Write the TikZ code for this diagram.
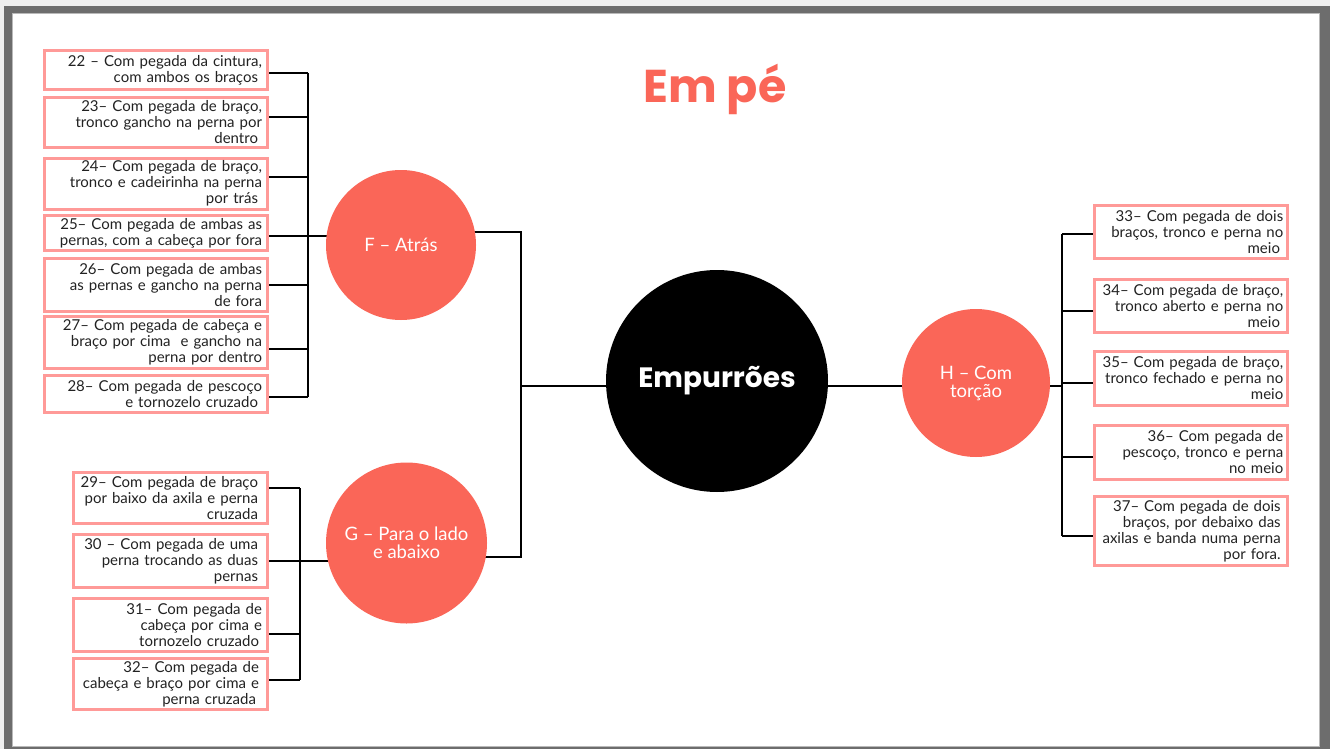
\documentclass[tikz,border=0pt]{standalone}
\usepackage{fontspec}
\setmainfont{Lato}
\newfontfamily\popfont{Poppins}
\definecolor{coral}{HTML}{FA6658}
\definecolor{boxpink}{HTML}{FF9A98}
\definecolor{framegray}{HTML}{6D6D6D}
\definecolor{bglight}{HTML}{EFEFEF}
\definecolor{textdark}{HTML}{222222}
\pgfdeclarelayer{back}
\pgfdeclarelayer{bg}
\pgfsetlayers{back,bg,main}
\begin{document}
\begin{tikzpicture}[x=1pt,y=-1pt,
  conn/.style={draw=black, line width=2pt},
  tbox/.style={draw=boxpink, line width=3pt, fill=white, inner ysep=0pt,
    font=\fontsize{15}{16}\selectfont, text=textdark, align=right},
  lbox/.style={tbox, minimum width=223pt, text width=212pt, inner xsep=5.5pt},
  gbox/.style={tbox, minimum width=194pt, text width=183pt, inner xsep=5.5pt},
  rbox/.style={tbox, minimum width=193pt, text width=184.6pt, inner xsep=4.2pt},
  circ/.style={circle, fill=coral, text=white, inner sep=0pt, align=center,
    font=\fontsize{18.5}{18}\selectfont}
]
\useasboundingbox (0,0) rectangle (1330,749);
% background and frame
\begin{pgfonlayer}{back}
\fill[bglight] (0,0) rectangle (1330,749);
\fill[framegray] (4,6) rectangle (1330,749);
\filldraw[fill=white, draw=gray!55, line width=1pt] (12,14) rectangle (1319,746);
\end{pgfonlayer}

% title
\node[font=\popfont\bfseries\fontsize{46}{46}\selectfont, text=coral, anchor=base] (title) at (715,103) {Em pé};

% circles
\node[circle, fill=black, minimum size=222pt, inner sep=0pt, text=white,
  font=\popfont\bfseries\fontsize{28}{28}\selectfont] (C) at (717,381) {Empurrões};
\node[circ, minimum size=150pt] (F) at (401,245) {F – Atrás};
\node[circ, minimum size=161pt] (G) at (406.5,543) {G – Para o lado\\e abaixo};
\node[circ, minimum size=148pt] (H) at (976,383) {H – Com\\torção};

% F boxes
\node[lbox, minimum height=39pt] (b22) at (156,70) {22 – Com pegada da cintura,\\com ambos os braços\kern4pt};
\node[lbox, minimum height=50pt] (b23) at (156,122.5) {23– Com pegada de braço,\\tronco gancho na perna por\\dentro\kern4pt};
\node[lbox, minimum height=51pt] (b24) at (156,183.7) {24– Com pegada de braço,\\tronco e cadeirinha na perna\\por trás\kern4pt};
\node[lbox, minimum height=35pt] (b25) at (156,233) {25– Com pegada de ambas as\\pernas, com a cabeça por fora};
\node[lbox, minimum height=53pt] (b26) at (156,285) {26– Com pegada de ambas\\as pernas e gancho na perna\\de fora};
\node[lbox, minimum height=52pt] (b27) at (156,342.5) {27– Com pegada de cabeça e\\braço por cima\ \ e gancho na\\perna por dentro};
\node[lbox, minimum height=37pt] (b28) at (156,394) {28– Com pegada de pescoço\\e tornozelo cruzado\kern4pt};

% G boxes
\node[gbox, minimum height=51pt] (b29) at (170.5,498) {29– Com pegada de braço\kern4pt\\por baixo da axila e perna\kern4pt\\cruzada\kern4pt};
\node[gbox, minimum height=53pt] (b30) at (170.5,561) {30 – Com pegada de uma\kern4pt\\perna trocando as duas\kern4pt\\pernas\kern4pt};
\node[gbox, minimum height=53pt] (b31) at (170.5,625) {31– Com pegada de\\cabeça por cima e\\tornozelo cruzado\kern3pt};
\node[gbox, minimum height=51pt] (b32) at (170.5,684) {32– Com pegada de\kern3pt\\cabeça e braço por cima e\kern3pt\\perna cruzada\kern6pt};

% H boxes
\node[rbox, minimum height=53pt] (b33) at (1191,232) {33– Com pegada de dois\\braços, tronco e perna no\\meio\kern3.3pt};
\node[rbox, minimum height=53pt] (b34) at (1191,306) {34– Com pegada de braço,\\tronco aberto e perna no\\meio\kern3.3pt};
\node[rbox, minimum height=54pt] (b35) at (1191,378.3) {35– Com pegada de braço,\\tronco fechado e perna no\\meio};
\node[rbox, minimum height=54pt] (b36) at (1191,452.5) {36– Com pegada de\\pescoço, tronco e perna\\no meio};
\node[rbox, minimum height=69pt] (b37) at (1191,531) {37– Com pegada de dois\kern2.6pt\\braços, por debaixo das\kern2.6pt\\axilas e banda numa perna\kern2.6pt\\por fora.\kern2.6pt};

% junction coordinates
\coordinate (fx) at (308,236);
\coordinate (gx) at (300,561);
\coordinate (mTop) at (521,232);
\coordinate (mMid) at (521,386);
\coordinate (mBot) at (521,557);
\coordinate (hx) at (1062,386);

\begin{pgfonlayer}{bg}
% F bracket
\foreach \b/\s in {b22/-3, b23/5.5, b24/6.7, b25/-3, b26/0, b27/-6.5, b28/-3}
  \draw[conn] ([yshift=\s pt]\b.east) -- ([yshift=\s pt]fx |- \b.east);
\draw[conn] ([yshift=-3pt]fx |- b22.east) -- ([yshift=-3pt]fx |- b28.east);
\draw[conn] (fx) -- (fx -| F.center);
% G bracket
\foreach \b/\s in {b29/10, b30/0, b31/-9, b32/4}
  \draw[conn] ([yshift=\s pt]\b.east) -- ([yshift=\s pt]gx |- \b.east);
\draw[conn] ([yshift=10pt]gx |- b29.east) -- ([yshift=4pt]gx |- b32.east);
\draw[conn] (gx) -- (gx -| G.center);
% middle bracket
\draw[conn] (mTop -| F.center) -- (mTop) -- (mBot) -- (mBot -| G.center);
\draw[conn] (mMid) -- (mMid -| C.center);
\draw[conn] (mMid -| C.center) -- (mMid -| H.center);
% H bracket
\draw[conn] (hx -| H.center) -- (hx);
\foreach \b/\s in {b33/-2, b34/-5, b35/-5, b36/-4.5, b37/-5}
  \draw[conn] ([yshift=\s pt]\b.west) -- ([yshift=\s pt]hx |- \b.west);
\draw[conn] ([yshift=-2pt]hx |- b33.west) -- ([yshift=-5pt]hx |- b37.west);
\end{pgfonlayer}
\end{tikzpicture}
\end{document}
